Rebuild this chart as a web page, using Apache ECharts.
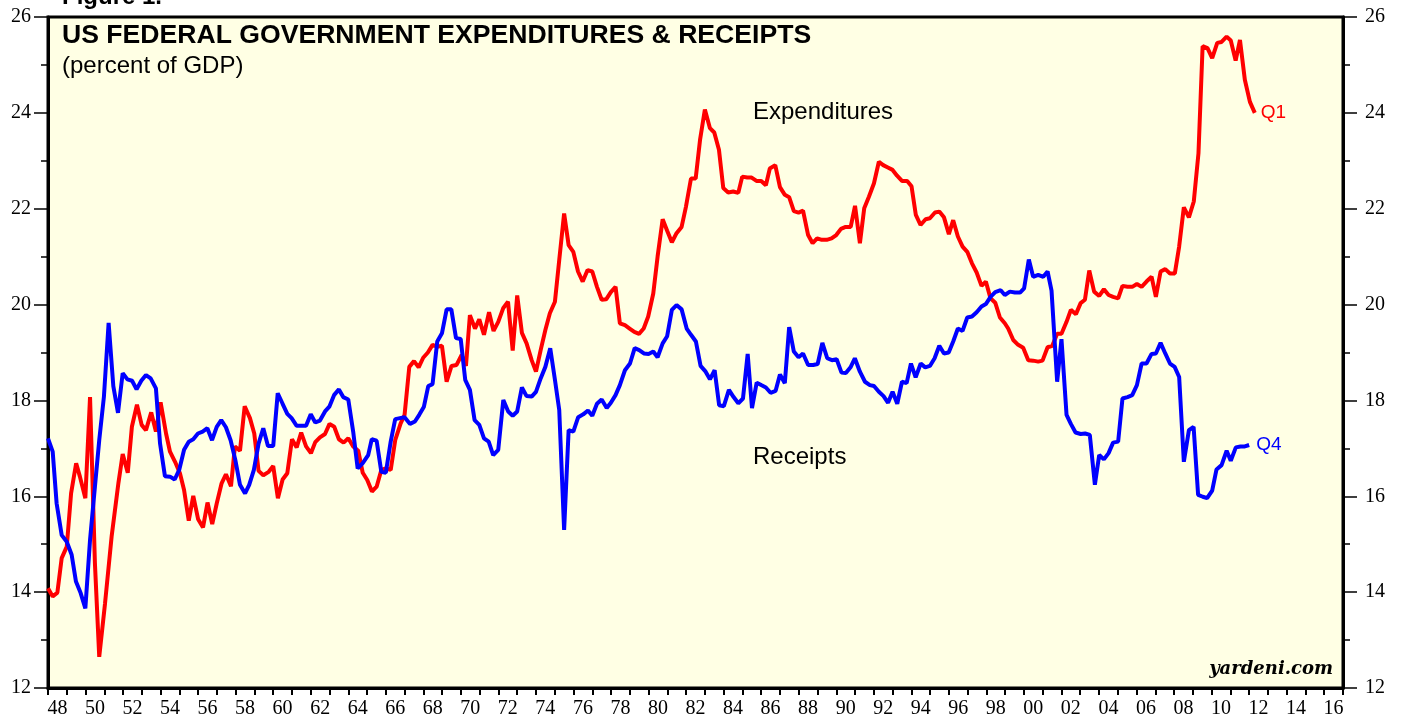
<!DOCTYPE html>
<html>
<head>
<meta charset="utf-8">
<title>US Federal Government Expenditures & Receipts</title>
<script src="https://cdn.jsdelivr.net/npm/echarts@6/dist/echarts.min.js"></script>
<style>
  html, body { margin: 0; padding: 0; background: #fff; }
  #main { width: 1403px; height: 719px; }
</style>
</head>
<body>
<div id="main"></div>
<script>
// quarterly readings, [year, percent of GDP]
var expenditures = [
  [1948.0,14.08],[1948.25,13.91],[1948.5,13.99],[1948.73,14.71],[1949.0,14.95],[1949.23,16.06],[1949.5,16.69],[1949.7,16.41],
  [1949.99,15.96],[1950.24,18.07],[1950.5,14.6],[1950.73,12.65],[1951.04,13.77],[1951.39,15.16],[1951.75,16.27],[1951.98,16.88],
  [1952.25,16.49],[1952.47,17.45],[1952.74,17.91],[1952.99,17.49],[1953.22,17.38],[1953.5,17.75],[1953.75,17.35],[1954.0,17.96],
  [1954.29,17.31],[1954.5,16.93],[1954.77,16.72],[1955.03,16.48],[1955.25,16.13],[1955.5,15.49],[1955.74,16.01],[1956.0,15.52],
  [1956.26,15.35],[1956.5,15.87],[1956.75,15.42],[1956.99,15.85],[1957.25,16.27],[1957.48,16.46],[1957.75,16.21],[1957.96,17.04],
  [1958.23,16.95],[1958.48,17.88],[1958.76,17.63],[1958.99,17.31],[1959.22,16.53],[1959.47,16.44],[1959.76,16.51],[1960.0,16.63],
  [1960.25,15.96],[1960.5,16.35],[1960.75,16.48],[1961.0,17.19],[1961.25,17.02],[1961.49,17.33],[1961.75,17.04],[1962.01,16.9],
  [1962.24,17.13],[1962.49,17.23],[1962.76,17.3],[1963.0,17.51],[1963.25,17.45],[1963.5,17.19],[1963.75,17.12],[1964.0,17.21],
  [1964.26,17.04],[1964.53,16.95],[1964.77,16.49],[1965.01,16.34],[1965.26,16.1],[1965.51,16.2],[1965.76,16.55],[1966.0,16.58],
  [1966.26,16.55],[1966.5,17.17],[1966.79,17.52],[1967.0,17.7],[1967.25,18.7],[1967.5,18.82],[1967.75,18.69],[1967.99,18.89],
  [1968.24,19.0],[1968.49,19.16],[1968.74,19.12],[1968.99,19.14],[1969.24,18.39],[1969.5,18.72],[1969.77,18.74],[1970.04,18.95],
  [1970.27,18.72],[1970.48,19.78],[1970.75,19.5],[1970.98,19.69],[1971.23,19.37],[1971.5,19.84],[1971.74,19.45],[1971.99,19.64],
  [1972.26,19.93],[1972.51,20.06],[1972.76,19.04],[1973.0,20.19],[1973.25,19.41],[1973.5,19.19],[1973.77,18.84],[1974.0,18.6],
  [1974.25,19.05],[1974.5,19.47],[1974.74,19.82],[1975.01,20.06],[1975.24,20.93],[1975.5,21.9],[1975.74,21.24],[1975.99,21.1],
  [1976.24,20.69],[1976.49,20.48],[1976.75,20.72],[1977.0,20.69],[1977.25,20.37],[1977.5,20.1],[1977.74,20.11],[1977.99,20.26],
  [1978.24,20.37],[1978.47,19.61],[1978.74,19.57],[1978.99,19.5],[1979.24,19.43],[1979.49,19.39],[1979.74,19.5],[1979.98,19.75],
  [1980.25,20.23],[1980.48,21.0],[1980.75,21.78],[1980.99,21.54],[1981.24,21.3],[1981.49,21.49],[1981.76,21.62],[1981.99,22.04],
  [1982.26,22.63],[1982.51,22.63],[1982.74,23.43],[1983.0,24.07],[1983.27,23.68],[1983.5,23.59],[1983.75,23.23],[1983.98,22.43],
  [1984.24,22.34],[1984.51,22.36],[1984.78,22.33],[1984.99,22.67],[1985.26,22.65],[1985.49,22.65],[1985.75,22.58],[1986.0,22.58],
  [1986.25,22.49],[1986.46,22.84],[1986.75,22.91],[1987.0,22.45],[1987.26,22.29],[1987.49,22.24],[1987.74,21.95],[1987.99,21.92],
  [1988.23,21.96],[1988.5,21.45],[1988.74,21.28],[1988.98,21.38],[1989.23,21.35],[1989.49,21.35],[1989.75,21.38],[1990.0,21.45],
  [1990.25,21.58],[1990.5,21.62],[1990.77,21.62],[1991.0,22.06],[1991.26,21.28],[1991.49,22.01],[1991.74,22.25],[1992.01,22.53],
  [1992.27,22.98],[1992.5,22.91],[1992.75,22.86],[1993.0,22.81],[1993.24,22.69],[1993.5,22.58],[1993.78,22.58],[1994.01,22.47],
  [1994.24,21.87],[1994.49,21.66],[1994.76,21.78],[1994.99,21.8],[1995.26,21.92],[1995.49,21.94],[1995.74,21.82],[1996.0,21.47],
  [1996.23,21.76],[1996.48,21.42],[1996.73,21.21],[1996.98,21.1],[1997.23,20.86],[1997.48,20.67],[1997.74,20.39],[1997.97,20.48],
  [1998.22,20.13],[1998.47,20.04],[1998.72,19.73],[1998.98,19.61],[1999.16,19.5],[1999.43,19.26],[1999.69,19.16],[1999.96,19.1],
  [2000.23,18.84],[2000.49,18.83],[2000.76,18.81],[2000.99,18.83],[2001.26,19.11],[2001.51,19.14],[2001.77,19.39],[2002.0,19.39],
  [2002.27,19.64],[2002.5,19.89],[2002.77,19.8],[2003.02,20.03],[2003.25,20.1],[2003.48,20.71],[2003.74,20.27],[2004.01,20.18],
  [2004.26,20.32],[2004.51,20.2],[2004.75,20.16],[2005.02,20.13],[2005.25,20.39],[2005.52,20.37],[2005.77,20.37],[2006.02,20.43],
  [2006.27,20.37],[2006.53,20.48],[2006.8,20.58],[2007.03,20.16],[2007.28,20.69],[2007.53,20.74],[2007.78,20.65],[2008.04,20.65],
  [2008.27,21.21],[2008.52,22.03],[2008.79,21.82],[2009.05,22.15],[2009.3,23.16],[2009.52,25.39],[2009.78,25.35],[2010.03,25.14],
  [2010.3,25.46],[2010.53,25.48],[2010.8,25.59],[2011.02,25.51],[2011.28,25.09],[2011.51,25.52],[2011.77,24.69],[2012.04,24.23],
  [2012.3,24.0]
];

var receipts = [
  [1948.0,17.21],[1948.25,16.93],[1948.46,15.85],[1948.73,15.19],[1949.0,15.05],[1949.26,14.78],[1949.49,14.22],[1949.74,13.98],
  [1949.99,13.66],[1950.24,15.09],[1950.5,16.2],[1950.73,17.17],[1950.98,18.08],[1951.23,19.62],[1951.48,18.3],[1951.73,17.74],
  [1951.98,18.57],[1952.23,18.44],[1952.48,18.41],[1952.72,18.23],[1952.97,18.41],[1953.22,18.53],[1953.47,18.46],[1953.75,18.25],
  [1953.97,17.1],[1954.23,16.42],[1954.5,16.41],[1954.75,16.35],[1954.99,16.55],[1955.25,16.97],[1955.5,17.14],[1955.74,17.19],
  [1955.99,17.31],[1956.24,17.35],[1956.49,17.42],[1956.74,17.17],[1956.99,17.45],[1957.23,17.59],[1957.48,17.44],[1957.73,17.17],
  [1957.98,16.76],[1958.23,16.24],[1958.5,16.06],[1958.72,16.24],[1958.97,16.55],[1959.22,17.1],[1959.47,17.42],[1959.72,17.05],
  [1960.0,17.05],[1960.24,18.15],[1960.5,17.93],[1960.75,17.72],[1960.98,17.63],[1961.25,17.47],[1961.52,17.47],[1961.75,17.47],
  [1962.0,17.71],[1962.24,17.54],[1962.49,17.58],[1962.76,17.77],[1962.99,17.87],[1963.24,18.11],[1963.5,18.23],[1963.73,18.07],
  [1964.0,18.02],[1964.26,17.35],[1964.5,16.58],[1964.77,16.69],[1965.06,16.86],[1965.25,17.19],[1965.51,17.16],[1965.76,16.51],
  [1966.0,16.49],[1966.26,17.14],[1966.5,17.61],[1966.75,17.63],[1967.0,17.65],[1967.29,17.51],[1967.55,17.56],[1967.78,17.7],
  [1968.03,17.87],[1968.26,18.3],[1968.49,18.34],[1968.74,19.23],[1968.99,19.4],[1969.24,19.9],[1969.49,19.9],[1969.74,19.3],
  [1969.99,19.28],[1970.23,18.43],[1970.48,18.22],[1970.73,17.59],[1970.98,17.49],[1971.23,17.21],[1971.48,17.14],[1971.72,16.86],
  [1971.99,16.97],[1972.26,18.01],[1972.52,17.77],[1972.76,17.68],[1973.0,17.77],[1973.25,18.27],[1973.5,18.09],[1973.77,18.08],
  [1974.0,18.18],[1974.25,18.46],[1974.5,18.7],[1974.76,19.09],[1975.01,18.43],[1975.24,17.8],[1975.5,15.3],[1975.74,17.38],
  [1975.99,17.35],[1976.25,17.65],[1976.52,17.71],[1976.77,17.79],[1977.0,17.68],[1977.25,17.93],[1977.5,18.02],[1977.77,17.84],
  [1977.99,17.95],[1978.24,18.11],[1978.47,18.32],[1978.74,18.63],[1979.01,18.77],[1979.26,19.09],[1979.5,19.05],[1979.75,18.98],
  [1980.0,18.97],[1980.25,19.02],[1980.48,18.9],[1980.75,19.19],[1980.99,19.34],[1981.24,19.89],[1981.49,19.99],[1981.76,19.9],
  [1982.03,19.5],[1982.26,19.37],[1982.52,19.23],[1982.77,18.72],[1983.04,18.6],[1983.27,18.44],[1983.52,18.63],[1983.76,17.9],
  [1984.01,17.88],[1984.28,18.22],[1984.53,18.07],[1984.78,17.94],[1985.03,18.04],[1985.28,18.97],[1985.51,17.84],[1985.76,18.37],
  [1986.0,18.32],[1986.25,18.27],[1986.5,18.16],[1986.77,18.2],[1987.0,18.54],[1987.26,18.36],[1987.49,19.53],[1987.74,19.02],
  [1987.99,18.9],[1988.23,18.98],[1988.5,18.74],[1988.77,18.74],[1989.01,18.76],[1989.26,19.2],[1989.52,18.88],[1989.77,18.84],
  [1990.02,18.86],[1990.28,18.58],[1990.51,18.57],[1990.76,18.69],[1990.99,18.88],[1991.26,18.6],[1991.53,18.39],[1991.79,18.32],
  [1992.01,18.3],[1992.27,18.18],[1992.52,18.09],[1992.76,17.95],[1993.0,18.18],[1993.25,17.93],[1993.5,18.39],[1993.75,18.36],
  [1993.98,18.77],[1994.23,18.48],[1994.5,18.77],[1994.74,18.69],[1994.99,18.72],[1995.24,18.88],[1995.49,19.14],[1995.74,18.98],
  [1995.99,19.0],[1996.23,19.23],[1996.48,19.5],[1996.73,19.45],[1996.98,19.73],[1997.23,19.75],[1997.48,19.84],[1997.74,19.96],
  [1997.97,20.01],[1998.22,20.16],[1998.47,20.26],[1998.76,20.3],[1998.98,20.2],[1999.25,20.27],[1999.52,20.25],[1999.79,20.25],
  [2000.01,20.34],[2000.26,20.94],[2000.49,20.58],[2000.76,20.62],[2001.03,20.58],[2001.26,20.69],[2001.47,20.29],[2001.77,18.39],
  [2002.0,19.28],[2002.27,17.7],[2002.5,17.51],[2002.75,17.33],[2003.02,17.3],[2003.26,17.31],[2003.51,17.28],[2003.78,16.24],
  [2004.01,16.86],[2004.26,16.77],[2004.51,16.9],[2004.75,17.12],[2005.02,17.14],[2005.25,18.04],[2005.52,18.07],[2005.77,18.11],
  [2006.02,18.32],[2006.27,18.77],[2006.53,18.77],[2006.8,18.97],[2007.03,18.98],[2007.28,19.2],[2007.53,18.98],[2007.78,18.77],
  [2008.03,18.7],[2008.27,18.49],[2008.52,16.72],[2008.79,17.38],[2009.04,17.45],[2009.28,16.03],[2009.53,15.99],[2009.76,15.96],
  [2010.03,16.12],[2010.26,16.56],[2010.53,16.65],[2010.8,16.95],[2011.02,16.74],[2011.29,17.02],[2011.54,17.04],[2011.77,17.04],
  [2012.0,17.07]
];

// one category per year, labelled every other year
var yearLabels = ['48','49','50','51','52','53','54','55','56','57','58','59','60','61','62','63','64','65','66','67',
  '68','69','70','71','72','73','74','75','76','77','78','79','80','81','82','83','84','85','86','87',
  '88','89','90','91','92','93','94','95','96','97','98','99','00','01','02','03','04','05','06','07',
  '08','09','10','11','12','13','14','15','16'];

var yTicks = [12, 14, 16, 18, 20, 22, 24, 26];

var chart = echarts.init(document.getElementById('main'), null, { renderer: 'canvas' });

var sans = '"Liberation Sans", Arial, Helvetica, sans-serif';
var serif = '"Liberation Serif", "Times New Roman", serif';

function yAxisFor(side, margin) {
  return {
    type: 'value',
    position: side,
    min: yTicks[0],
    max: yTicks[yTicks.length - 1],
    interval: 2,
    axisLine: { show: true, lineStyle: { color: '#000', width: 3 } },
    axisTick: { show: true, length: 14, lineStyle: { color: '#000', width: 1.5 } },
    minorTick: { show: true, splitNumber: 2, length: 7, lineStyle: { color: '#000', width: 1.5 } },
    splitLine: { show: false },
    axisLabel: { color: '#000', fontFamily: serif, fontSize: 20, margin: margin }
  };
}

var option = {
  animation: false,
  backgroundColor: '#fff',
  title: {
    text: 'US FEDERAL GOVERNMENT EXPENDITURES & RECEIPTS',
    subtext: '(percent of GDP)',
    left: 62,
    top: 22,
    itemGap: 5,
    padding: 0,
    textStyle: { color: '#000', fontFamily: sans, fontWeight: 'bold', fontSize: 26.6 },
    subtextStyle: { color: '#000', fontFamily: sans, fontSize: 24 }
  },
  grid: {
    left: 48, right: 60, top: 17, bottom: 31,
    show: true,
    backgroundColor: '#ffffe4',
    borderColor: '#000',
    borderWidth: 3
  },
  xAxis: [
    {
      type: 'category',
      data: yearLabels,
      boundaryGap: true,
      position: 'bottom',
      axisLine: { show: true, lineStyle: { color: '#000', width: 3 } },
      axisTick: { show: true, interval: 0, length: 7, lineStyle: { color: '#000', width: 2 } },
      axisLabel: { interval: 1, color: '#000', fontFamily: serif, fontSize: 20, margin: 11 },
      splitLine: { show: false }
    },
    {
      // value axis used to place the quarterly points
      type: 'value',
      min: 1948,
      max: 2017,
      show: false
    }
  ],
  yAxis: [yAxisFor('left', 17), yAxisFor('right', 22)],
  graphic: [
    {
      type: 'text', left: 62, top: -15,
      style: { text: 'Figure 1.', fill: '#000', font: 'bold 24px ' + sans }
    },
    {
      type: 'text', left: 753, top: 100,
      style: { text: 'Expenditures', fill: '#000', font: '24px ' + sans }
    },
    {
      type: 'text', left: 753, top: 445,
      style: { text: 'Receipts', fill: '#000', font: '24px ' + sans }
    },
    {
      type: 'text', right: 70, top: 660,
      style: { text: 'yardeni.com', fill: '#000', font: 'italic bold 18px "DejaVu Serif", serif' }
    }
  ],
  series: [
    {
      name: 'Expenditures',
      type: 'line',
      xAxisIndex: 1,
      yAxisIndex: 0,
      data: expenditures,
      showSymbol: false,
      lineStyle: { color: '#ff0000', width: 4 },
      itemStyle: { color: '#ff0000' },
      endLabel: { show: true, formatter: 'Q1', color: '#ff0000', fontFamily: sans, fontSize: 19, distance: 6 }
    },
    {
      name: 'Receipts',
      type: 'line',
      xAxisIndex: 1,
      yAxisIndex: 0,
      data: receipts,
      showSymbol: false,
      lineStyle: { color: '#0000ff', width: 4 },
      itemStyle: { color: '#0000ff' },
      endLabel: { show: true, formatter: 'Q4', color: '#0000ff', fontFamily: sans, fontSize: 19, distance: 7 }
    }
  ]
};

chart.setOption(option);
</script>
</body>
</html>
